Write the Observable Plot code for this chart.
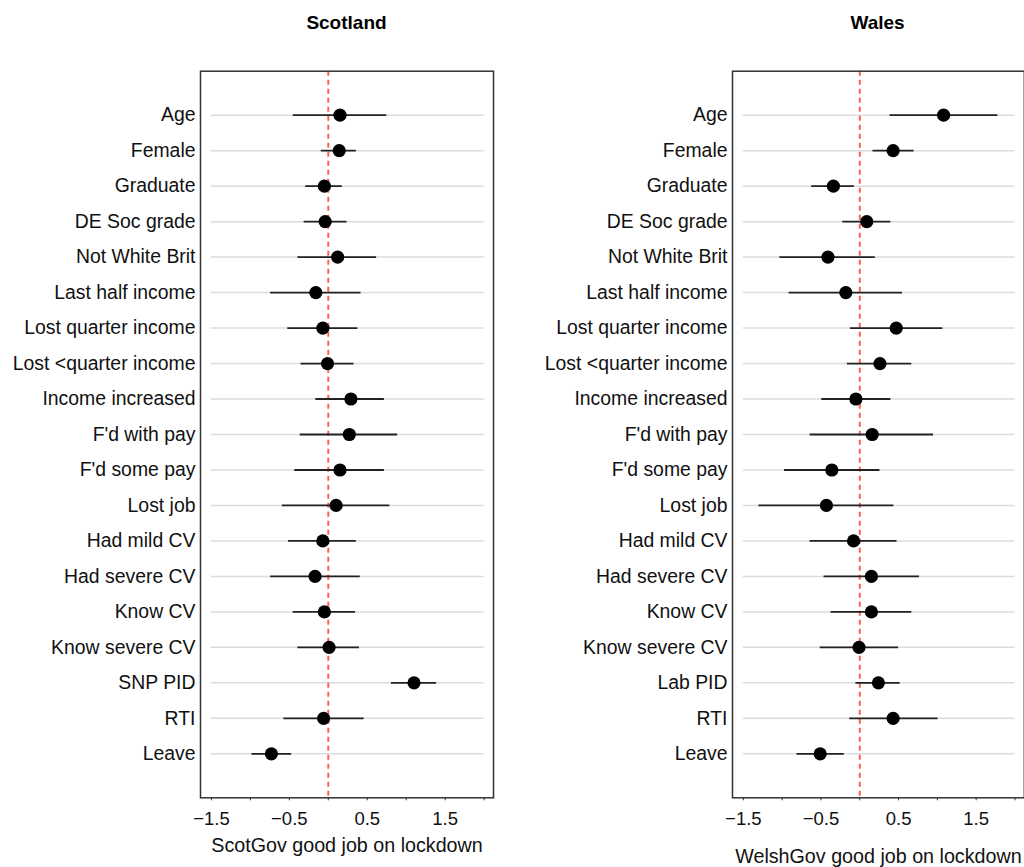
<!DOCTYPE html>
<html>
<head>
<meta charset="utf-8">
<script src="https://cdn.jsdelivr.net/npm/d3@7"></script>
<script src="https://cdn.jsdelivr.net/npm/@observablehq/plot@0.6"></script>
<style>
  html, body { margin: 0; padding: 0; background: #fff; }
  #root { position: relative; width: 1024px; height: 867px; overflow: hidden; background: #fff;
          font-family: "Liberation Sans", Arial, sans-serif; color: #111; }
  .panel { position: absolute; top: 0; }
  .title { height: 45px; box-sizing: border-box; padding-top: 13px; line-height: 19px;
           font-size: 19px; font-weight: bold; text-align: center; color: #000; }
  .panel svg { display: block; }
</style>
</head>
<body>
<div id="root"></div>
<script>
// ---- data ----
const scotTerms = ["Age","Female","Graduate","DE Soc grade","Not White Brit","Last half income",
  "Lost quarter income","Lost <quarter income","Income increased","F'd with pay","F'd some pay",
  "Lost job","Had mild CV","Had severe CV","Know CV","Know severe CV","SNP PID","RTI","Leave"];
const walesTerms = ["Age","Female","Graduate","DE Soc grade","Not White Brit","Last half income",
  "Lost quarter income","Lost <quarter income","Income increased","F'd with pay","F'd some pay",
  "Lost job","Had mild CV","Had severe CV","Know CV","Know severe CV","Lab PID","RTI","Leave"];

const scotEst = [0.15, 0.14, -0.05, -0.04, 0.12, -0.16, -0.07, -0.01, 0.29, 0.27, 0.15, 0.10, -0.07, -0.17, -0.05, 0.01, 1.10, -0.06, -0.73];
const scotLo  = [-0.45, -0.09, -0.29, -0.31, -0.39, -0.74, -0.52, -0.35, -0.16, -0.36, -0.43, -0.59, -0.51, -0.74, -0.45, -0.39, 0.81, -0.57, -0.98];
const scotHi  = [0.75, 0.36, 0.18, 0.24, 0.62, 0.42, 0.38, 0.33, 0.72, 0.89, 0.72, 0.79, 0.36, 0.41, 0.35, 0.40, 1.39, 0.46, -0.47];

const walesEst = [1.08, 0.43, -0.34, 0.09, -0.41, -0.18, 0.47, 0.26, -0.05, 0.16, -0.36, -0.43, -0.08, 0.15, 0.15, -0.01, 0.24, 0.43, -0.51];
const walesLo  = [0.39, 0.17, -0.62, -0.22, -1.03, -0.91, -0.12, -0.16, -0.49, -0.64, -0.97, -1.30, -0.64, -0.46, -0.37, -0.51, -0.05, -0.13, -0.81];
const walesHi  = [1.78, 0.70, -0.07, 0.40, 0.20, 0.55, 1.07, 0.67, 0.40, 0.95, 0.26, 0.44, 0.48, 0.77, 0.67, 0.50, 0.52, 1.01, -0.20];

const xTicks = [-1.5, -1, -0.5, 0, 0.5, 1, 1.5, 2];
const xTickLabels = [-1.5, -0.5, 0.5, 1.5];
const xDomain = [-1.64, 2.12];
const panelTitles = ["Scotland", "Wales"];
const xTitles = ["ScotGov good job on lockdown", "WelshGov good job on lockdown"];

function makePanel(terms, est, lo, hi, title, xTitle, opts) {
  const rows = terms.map((t, i) => ({term: t, est: est[i], lo: lo[i], hi: hi[i]}));
  const grid = terms.map(t => ({term: t, x1: xTicks[0], x2: xTicks[xTicks.length - 1]}));
  const plot = Plot.plot({
    width: opts.width,
    height: 822,
    marginLeft: 200,
    marginRight: opts.marginRight,
    marginTop: 25.7,
    marginBottom: 69.7,
    style: {fontFamily: '"Liberation Sans", Arial, sans-serif', color: "#111", background: "#fff", overflow: "visible"},
    x: {domain: xDomain},
    y: {type: "point", domain: terms, padding: 1.24, round: false},
    marks: [
      Plot.ruleY(grid, {y: "term", x1: "x1", x2: "x2", stroke: "#dcdcdc", strokeWidth: 1.5}),
      Plot.ruleX([0], {stroke: "#ff5c5c", strokeWidth: 2, strokeDasharray: "5,4"}),
      Plot.ruleY(rows, {y: "term", x1: "lo", x2: "hi", stroke: "#222", strokeWidth: 1.8}),
      Plot.dot(rows, {x: "est", y: "term", r: 6.6, fill: "#000", stroke: "none"}),
      Plot.frame({stroke: "#333", strokeWidth: 1.5}),
      Plot.axisY({tickSize: 0, tickPadding: 5, fontSize: 19.4, label: null}),
      Plot.axisX({ticks: xTicks, tickSize: 3, tickFormat: () => "", label: null, stroke: "#333"}),
      Plot.axisX({ticks: xTickLabels, tickSize: 0, tickPadding: 14, fontSize: 18.5, label: null}),
      Plot.text([xTitle], {text: d => d, frameAnchor: "bottom", dy: opts.titleDy, fontSize: 19.7, lineAnchor: "middle", fill: "#111"})
    ]
  });
  const panel = document.createElement("div");
  panel.className = "panel";
  panel.style.left = opts.left + "px";
  panel.style.width = opts.width + "px";
  const t = document.createElement("div");
  t.className = "title";
  t.style.marginLeft = "200px";
  t.style.width = (opts.width - 200 - opts.marginRight) + "px";
  t.textContent = title;
  panel.appendChild(t);
  panel.appendChild(plot);
  document.getElementById("root").appendChild(panel);
}

makePanel(scotTerms, scotEst, scotLo, scotHi, panelTitles[0], xTitles[0], {left: 0, width: 500, marginRight: 7, titleDy: 47.5});
makePanel(walesTerms, walesEst, walesLo, walesHi, panelTitles[1], xTitles[1], {left: 531.7, width: 500, marginRight: 8.2, titleDy: 59});
</script>
</body>
</html>
